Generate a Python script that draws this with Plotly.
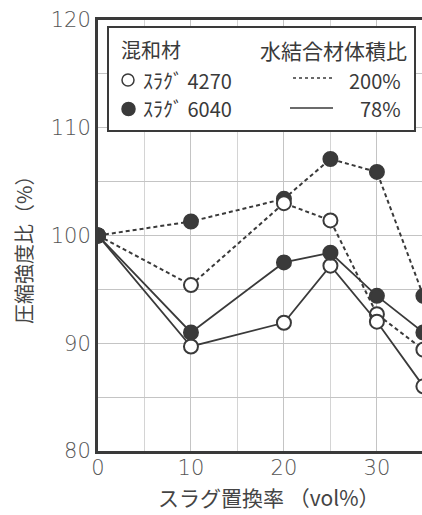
import plotly.graph_objects as go

# ---- data ----
x_vals = [0, 10, 20, 25, 30, 35]
slag4270_w200 = [100, 95.4, 103.0, 101.4, 92.7, 89.4]
slag6040_w200 = [100, 101.3, 103.4, 107.1, 105.9, 94.4]
slag4270_w78 = [100, 89.7, 91.9, 97.2, 92.0, 86.0]
slag6040_w78 = [100, 91.0, 97.5, 98.4, 94.4, 91.0]

x_ticks = [0, 10, 20, 30]
x_tick_text = ["0", "10", "20", "30"]
y_ticks = [80, 90, 100, 110, 120]
y_tick_text = ["80", "90", "100", "110", "120"]

x_title = "スラグ置換率 （vol%）"
y_title = "圧縮強度比（%）"
legend_head_left = "混和材"
legend_head_right = "水結合材体積比"
legend_rows = ["ｽﾗｸﾞ 4270", "ｽﾗｸﾞ 6040"]
legend_ratio = ["200%", "78%"]

W, H = 422, 515
L, R, T, B = 98, 0, 20, 64
PW, PH = W - L - R, H - T - B

def px(xs):
    return (xs - L) / PW

def py(ys):
    return (H - B - ys) / PH

INK = "#3a3a3a"
DASH = "4px,3px"
JP = "Noto Sans CJK JP"
NUM = "DejaVu Sans"

fig = go.Figure()

def add_series(y, filled, dashed, name):
    fig.add_trace(go.Scatter(
        x=x_vals, y=y, mode="lines+markers", name=name, cliponaxis=True,
        line=dict(color=INK, width=2 if dashed else 1.8, dash=DASH if dashed else "solid"),
        marker=dict(size=14, symbol="circle",
                    color=INK if filled else "white",
                    line=dict(color=INK, width=2)),
        showlegend=False,
    ))

add_series(slag6040_w200, True, True, "6040 200%")
add_series(slag4270_w200, False, True, "4270 200%")
add_series(slag4270_w78, False, False, "4270 78%")
add_series(slag6040_w78, True, False, "6040 78%")

fig.update_xaxes(
    range=[0, 34.85], tickmode="array", tickvals=x_ticks, ticktext=x_tick_text,
    showgrid=True, gridcolor="#c4c4c4", gridwidth=1,
    minor=dict(dtick=5, tick0=0, showgrid=True, gridcolor="#d4d4d4", gridwidth=1),
    showline=True, linecolor=INK, linewidth=3, mirror=True,
    ticks="", tickfont=dict(family=NUM, size=21, color="#555", weight=200),
    ticklabelstandoff=-4,
    zeroline=False,
)
fig.update_yaxes(
    range=[80, 120], tickmode="array", tickvals=y_ticks, ticktext=y_tick_text,
    showgrid=True, gridcolor="#c4c4c4", gridwidth=1,
    minor=dict(dtick=5, tick0=80, showgrid=True, gridcolor="#c4c4c4", gridwidth=1),
    showline=True, linecolor=INK, linewidth=3, mirror=False,
    ticks="", tickfont=dict(family=NUM, size=21, color="#555", weight=200),
    zeroline=False,
)

annotations = [
    dict(text=x_title, xref="paper", yref="paper", x=px(269), y=py(497),
         xanchor="center", yanchor="middle", showarrow=False,
         font=dict(family=JP, size=21, color="#444")),
    dict(text=y_title, xref="paper", yref="paper", x=px(24), y=py(245),
         xanchor="center", yanchor="middle", showarrow=False, textangle=-90,
         font=dict(family=JP, size=20, color="#444")),
    dict(text=legend_head_left, xref="paper", yref="paper", x=px(119), y=py(50),
         xanchor="left", yanchor="middle", showarrow=False,
         font=dict(family=JP, size=20, color=INK)),
    dict(text=legend_head_right, xref="paper", yref="paper", x=px(409), y=py(50),
         xanchor="right", yanchor="middle", showarrow=False,
         font=dict(family=JP, size=21, color=INK)),
]
row_y = [80, 109]
for i in range(2):
    annotations.append(dict(text=legend_rows[i], xref="paper", yref="paper", x=px(141), y=py(row_y[i]),
                            xanchor="left", yanchor="middle", showarrow=False,
                            font=dict(family=JP, size=20, color=INK)))
    annotations.append(dict(text=legend_ratio[i], xref="paper", yref="paper", x=px(403), y=py(row_y[i]),
                            xanchor="right", yanchor="middle", showarrow=False,
                            font=dict(family=JP, size=20, color=INK)))

shapes = [
    dict(type="rect", xref="paper", yref="paper", x0=px(108), x1=px(415), y0=py(131), y1=py(27),
         line=dict(color=INK, width=2), fillcolor="white", layer="above"),
    dict(type="line", xref="paper", yref="paper", x0=px(293), x1=px(333), y0=py(78), y1=py(78),
         line=dict(color=INK, width=1.5, dash="3px,3px"), layer="above"),
    dict(type="line", xref="paper", yref="paper", x0=px(290), x1=px(333), y0=py(108), y1=py(108),
         line=dict(color=INK, width=1.5), layer="above"),
    dict(type="circle", xref="paper", yref="paper", x0=px(122), x1=px(134), y0=py(86), y1=py(74),
         line=dict(color=INK, width=1.5), fillcolor="white", layer="above"),
    dict(type="circle", xref="paper", yref="paper", x0=px(122), x1=px(135), y0=py(115.5), y1=py(102.5),
         line=dict(color=INK, width=1.5), fillcolor=INK, layer="above"),
]

fig.update_layout(
    width=W, height=H, margin=dict(l=L, r=R, t=T, b=B),
    paper_bgcolor="white", plot_bgcolor="white",
    annotations=annotations, shapes=shapes, showlegend=False,
)

fig.write_html(
    "out.html",
    config={"displayModeBar": False},
    post_script="document.body.style.margin='0';document.body.style.overflow='hidden';",
)
